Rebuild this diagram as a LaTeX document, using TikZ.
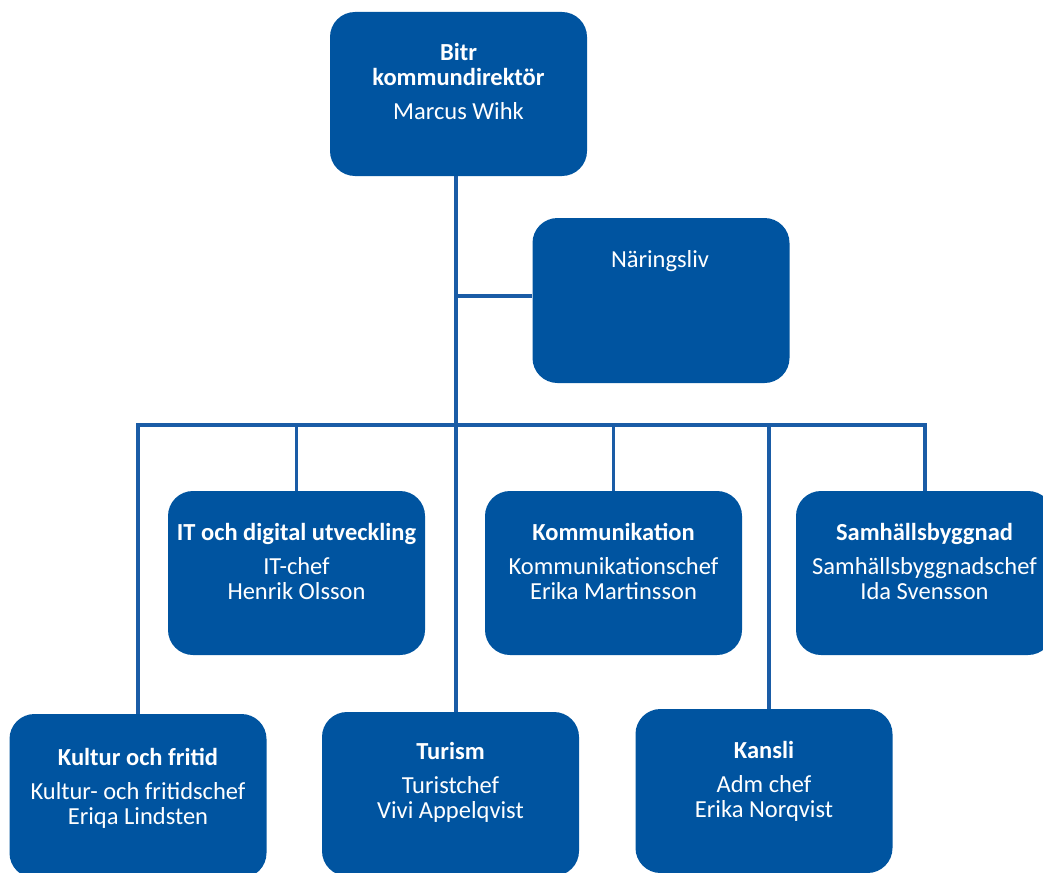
\documentclass[tikz,border=0pt]{standalone}
\usepackage{fontspec}
\setmainfont{Carlito}
\definecolor{boxblue}{RGB}{0,84,160}
\definecolor{lineblue}{RGB}{26,92,166}
\begin{document}
\begin{tikzpicture}[x=1pt,y=-1pt,
  unit/.style={draw=none, fill=boxblue, rounded corners=25pt, inner sep=0pt,
               minimum width=257pt, minimum height=164pt},
  txt/.style={text=white, align=center, inner sep=0pt, anchor=base,
              font=\fontsize{24.5}{25}\selectfont},
  link/.style={draw=lineblue, line width=3.2pt}]
\useasboundingbox (0,0) rectangle (1043,872);

% boxes
\node[unit] (top) at (458.5,94) {};
\node[unit, minimum height=165pt] (nar) at (661,300.5) {};
\node[unit] (it)  at (296.5,573) {};
\node[unit] (kom) at (613.5,573) {};
\node[unit] (sam) at (924.5,573) {};
\node[unit] (kul) at (138,796) {};
\node[unit] (tur) at (450.5,794) {};
\node[unit] (kan) at (764,791) {};

% junction coordinates
\coordinate (trunk) at (456,425);
\coordinate (busL) at (138,425);
\coordinate (busR) at (925,425);
\coordinate (kanx) at (769,425);
\coordinate (narj) at (456,296);

% connectors
\draw[link] (top.south -| trunk) -- (tur.north -| trunk);
\draw[link] (narj) -- (narj -| nar.west);
\draw[link] (kul.north) -- (busL) -- (busR) -- (sam.north -| busR);
\draw[link] (it.north) -- (it.north |- busL);
\draw[link] (kom.north) -- (kom.north |- busL);
\draw[link] (kan.north -| kanx) -- (kanx);

% texts (anchor = baseline of last line)
\node[txt] (topT) at (458.5,120) {\textbf{Bitr}\\\textbf{kommundirektör}\\[9pt]Marcus Wihk};
\node[txt] (narT) at (660,267) {Näringsliv};
\node[txt] (itT)  at (296.5,599) {\textbf{IT och digital utveckling}\\[9pt]IT-chef\\Henrik Olsson};
\node[txt] (komT) at (613.5,599) {\textbf{Kommunikation}\\[9pt]Kommunikationschef\\Erika Martinsson};
\node[txt] (samT) at (924.5,599) {\textbf{Samhällsbyggnad}\\[9pt]Samhällsbyggnadschef\\Ida Svensson};
\node[txt] (kulT) at (138,824) {\textbf{Kultur och fritid}\\[9pt]Kultur- och fritidschef\\Eriqa Lindsten};
\node[txt] (turT) at (450.5,818) {\textbf{Turism}\\[9pt]Turistchef\\Vivi Appelqvist};
\node[txt] (kanT) at (764,817) {\textbf{Kansli}\\[9pt]Adm chef\\Erika Norqvist};
\end{tikzpicture}
\end{document}
